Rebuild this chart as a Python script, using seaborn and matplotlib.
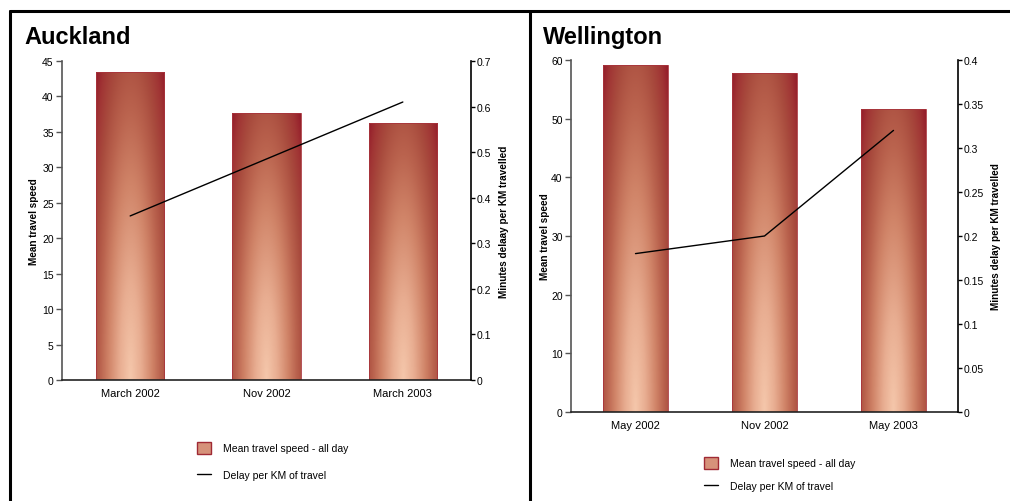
import numpy as np
import matplotlib
matplotlib.use("Agg")
import matplotlib.pyplot as plt
from matplotlib.colors import LinearSegmentedColormap
from matplotlib.patches import Patch
from matplotlib.lines import Line2D
import seaborn as sns

# Auckland
akl_periods = ["March 2002", "Nov 2002", "March 2003"]
akl_speed = [43.4, 37.6, 36.3]
akl_delay = [0.36, 0.485, 0.61]

# Wellington
wlg_periods = ["May 2002", "Nov 2002", "May 2003"]
wlg_speed = [59.2, 57.8, 51.7]
wlg_delay = [0.18, 0.20, 0.32]

sns.set_style("white")
plt.rcParams["font.family"] = ["Liberation Sans", "DejaVu Sans"]
plt.rcParams.update({"text.color": "black", "axes.labelcolor": "black",
                     "xtick.color": "black", "ytick.color": "black"})

W, H = 1010, 502
fig = plt.figure(figsize=(W / 100, H / 100), dpi=100)
fig.patch.set_facecolor("white")

stops = [(0.0, "#f5c7ab"), (0.22, "#e8ad91"), (0.45, "#d08468"),
         (0.62, "#ba634e"), (0.76, "#a94c3e"), (0.9, "#a03434"), (1.0, "#941c2a")]
bar_cmap = LinearSegmentedColormap.from_list("bar_glow", stops, N=256)


def shade_bars(ax):
    """Fill each bar with an elliptical glow centred on its base."""
    for p in ax.patches:
        x0, w, h = p.get_x(), p.get_width(), p.get_height()
        xs = np.linspace(-1, 1, 120)
        ys = np.linspace(0, 1, 240)
        gx, gy = np.meshgrid(xs, ys)
        r = np.sqrt(gx ** 2 + gy ** 2) / np.sqrt(2)
        img = ax.imshow(r, cmap=bar_cmap, vmin=0, vmax=1, origin="lower",
                        extent=[x0, x0 + w, 0, h], aspect="auto",
                        interpolation="bilinear", zorder=p.get_zorder() + 0.1)
        img.set_clip_path(p)
        p.set_facecolor("none")
        p.set_edgecolor("#a8343c")
        p.set_linewidth(0.6)
        p.set_zorder(p.get_zorder() + 0.2)


def panel(rect, periods, speed, delay, ymax, ystep, y2max, y2step,
          right_label, left_lab_x, right_lab_x):
    ax = fig.add_axes(rect)
    sns.barplot(x=periods, y=speed, ax=ax, width=0.5, color="#c87a60",
                saturation=1)
    shade_bars(ax)
    ax.set_xlim(-0.5, 2.5)
    ax.set_ylim(0, ymax)
    t1 = np.arange(0, ymax + ystep / 2, ystep)
    ax.set_yticks(t1)
    ax.set_yticklabels([f"{v:g}" for v in t1])
    for s in ("top", "right"):
        ax.spines[s].set_visible(False)
    ax.spines["left"].set_color("#555555")
    ax.spines["left"].set_linewidth(1.2)
    ax.spines["bottom"].set_color("#222222")
    ax.spines["bottom"].set_linewidth(1.2)
    ax.tick_params(axis="x", length=0, labelsize=8, pad=6)
    ax.tick_params(axis="y", direction="out", length=4.5, width=1,
                   color="#555555", labelsize=7.5, pad=1.5, left=True)
    ax.set_ylabel("Mean travel speed", fontsize=7.2, fontweight="bold")
    ax.yaxis.set_label_coords(left_lab_x, 0.5)
    ax.set_xlabel("")
    ax.grid(False)

    ax2 = ax.twinx()
    sns.lineplot(x=np.arange(len(delay)), y=delay, ax=ax2, color="black",
                 linewidth=1.0)
    ax2.set_xlim(-0.5, 2.5)
    ax2.set_ylim(0, y2max)
    t2 = np.round(np.arange(0, y2max + y2step / 2, y2step), 3)
    ax2.set_yticks(t2)
    ax2.set_yticklabels([f"{v:g}" for v in t2])
    for s in ("top", "left", "bottom"):
        ax2.spines[s].set_visible(False)
    ax2.spines["right"].set_color("black")
    ax2.spines["right"].set_linewidth(1.2)
    ax2.tick_params(axis="y", direction="out", length=2.8, width=1,
                    color="black", labelsize=7.5, pad=1.5, right=True)
    ax2.set_ylabel(right_label, fontsize=7.2, fontweight="bold")
    ax2.yaxis.set_label_coords(right_lab_x, 0.5)
    ax2.grid(False)
    return ax, ax2


def px_rect(x0, x1, ytop, ybot):
    return [x0 / W, 1 - ybot / H, (x1 - x0) / W, (ybot - ytop) / H]


panel(px_rect(62, 471, 62, 381), akl_periods, akl_speed, akl_delay,
      45, 5, 0.7, 0.1, "Minutes delaay per KM travelled", -0.056, 1.068)
panel(px_rect(571, 958, 61, 413), wlg_periods, wlg_speed, wlg_delay,
      60, 10, 0.4, 0.05, "Minutes delay per KM travelled", -0.053, 1.084)

fig.text(24 / W, 1 - 44 / H, "Auckland", fontsize=17, fontweight="bold",
         va="baseline", ha="left")
fig.text(543 / W, 1 - 44 / H, "Wellington", fontsize=17, fontweight="bold",
         va="baseline", ha="left")

handles = [Patch(facecolor="#d6927a", edgecolor="#a02a34", linewidth=1.0),
           Line2D([0], [0], color="black", linewidth=1.0)]
labels = ["Mean travel speed - all day", "Delay per KM of travel"]
for lx, ly, sp in ((192, 438, 1.5), (699, 453, 1.12)):
    fig.legend(handles, labels, loc="upper left",
               bbox_to_anchor=(lx / W, 1 - ly / H), frameon=False,
               fontsize=7.5, borderpad=0, handlelength=1.3, handleheight=1.3,
               handletextpad=1.2, labelspacing=sp)

# panel frame
for xs, ys in (([10, 10], [12, H]), ([10, W], [12, 12]), ([529.5, 529.5], [12, H])):
    fig.add_artist(Line2D([x / W for x in xs], [1 - y / H for y in ys],
                          color="black", linewidth=2.2, transform=fig.transFigure))

fig.savefig("out.png", dpi=100)
